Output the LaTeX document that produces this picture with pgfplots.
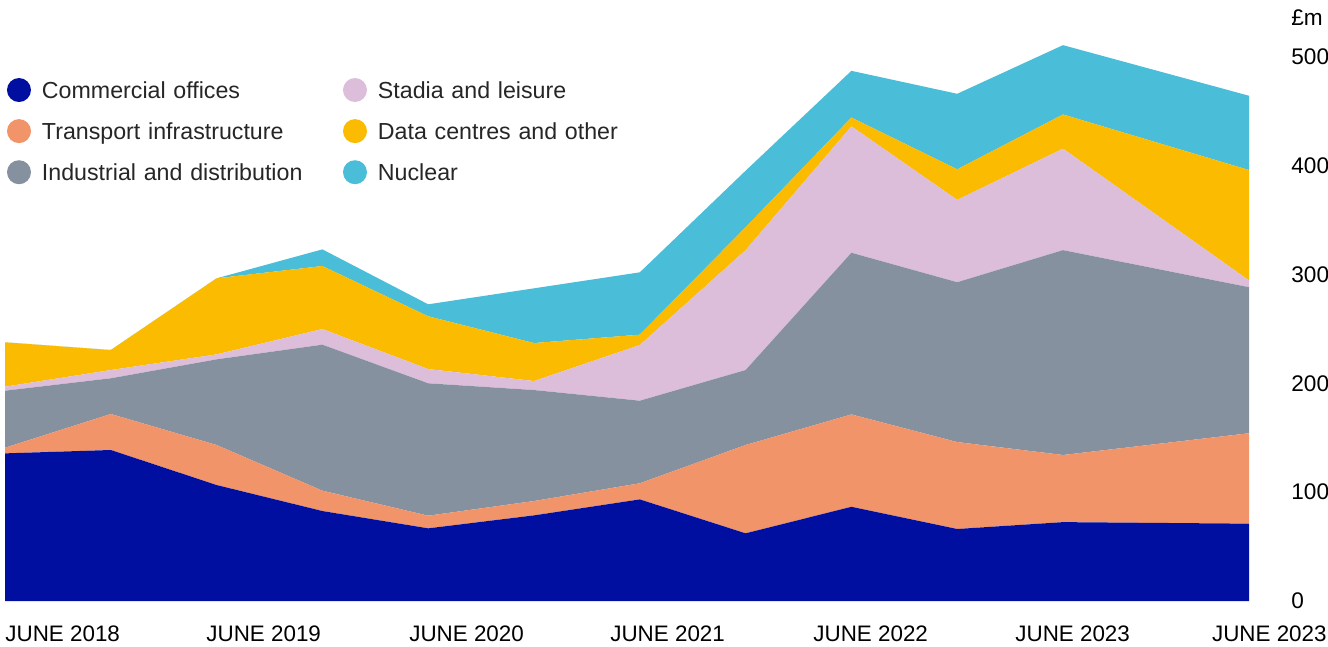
\documentclass[border=0pt]{standalone}
\usepackage{fontspec}
\setmainfont{Liberation Sans}
\usepackage{pgfplots}
\usepackage{pgfplotstable}
\pgfplotsset{compat=1.18}
\definecolor{cOff}{RGB}{0,15,160}
\definecolor{cTra}{RGB}{241,148,106}
\definecolor{cInd}{RGB}{133,145,159}
\definecolor{cSta}{RGB}{220,190,218}
\definecolor{cDat}{RGB}{250,187,0}
\definecolor{cNuc}{RGB}{74,190,216}
\pgfplotstableread{
x      C      T     I      S      D      N
0      135.7  5.2   52.4   3.7    40.8   0
1      138.8  33.1  32.8   7.6    18.4   0
2      106.6  36.8  78.7   4.6    69.9   0
3      82.7   18.7  134.2  14.4   57.9   15.3
4      66.8   11.6  121.7  13.1   48.5   11.0
5      78.7   13.2  102.0  8.3    34.9   50.3
6      93.4   14.8  75.9   51.2   9.5    57.3
7      62.2   81.2  68.9   110.2  21.0   52.0
8      86.6   84.9  148.6  116.2  8.1    42.9
9      66.2   79.9  146.9  75.7   28.1   69.4
10     72.5   61.7  188.3  93.3   31.4   63.7
11.758 71.1   83.1  134.2  6.3    101.4  68.3
}\datatable
\begin{document}
\begin{tikzpicture}
\begin{axis}[
  name=ax,
  scale only axis, width=622pt, height=293.76pt,
  xmin=0, xmax=11.758, ymin=0, ymax=540,
  clip=false,
  axis x line*=bottom, axis y line*=right,
  axis line style={draw=none}, tick style={draw=none},
  stack plots=y,
  ytick={0,100,200,300,400,500},
  /pgf/number format/assume math mode=true,
  yticklabel style={anchor=west, inner sep=0pt, xshift=21pt, font=\fontsize{11.3}{13}\selectfont},
  xtick={0,1.900,3.818,5.718,7.637,9.546},
  xticklabels={JUNE 2018,JUNE 2019,JUNE 2020,JUNE 2021,JUNE 2022,JUNE 2023},
  xticklabel style={anchor=north west, inner sep=0pt, yshift=-12pt, font=\fontsize{11.2}{13}\selectfont},
  extra x ticks={11.758},
  extra x tick labels={JUNE 2023},
  extra x tick style={xticklabel style={anchor=north east, xshift=39pt}},
  legend columns=2,
  legend image code/.code={\fill[#1] (6pt,1.1pt) circle (6pt);},
  legend style={draw=none, fill=none, at={(0.0016,0.8902)}, anchor=north west,
    inner sep=0pt, outer sep=0pt, row sep=7.95pt,
    nodes={inner sep=0pt, text height=8.5pt, text depth=2.5pt, text width=150.5pt, align=left,
      font=\fontsize{11.6}{14}\selectfont, text=black!85},
    /tikz/every odd column/.append style={column sep=5.5pt}},
]
\addplot[fill=cOff, draw=none, forget plot] table[x=x, y=C] {\datatable} \closedcycle;
\addplot[fill=cTra, draw=none, forget plot] table[x=x, y=T] {\datatable} \closedcycle;
\addplot[fill=cInd, draw=none, forget plot] table[x=x, y=I] {\datatable} \closedcycle;
\addplot[fill=cSta, draw=none, forget plot] table[x=x, y=S] {\datatable} \closedcycle;
\addplot[fill=cDat, draw=none, forget plot] table[x=x, y=D] {\datatable} \closedcycle;
\addplot[fill=cNuc, draw=none, forget plot] table[x=x, y=N] {\datatable} \closedcycle;
\addlegendimage{fill=cOff, draw=none}
\addlegendentry{Commercial offices}
\addlegendimage{fill=cSta, draw=none}
\addlegendentry{Stadia and leisure}
\addlegendimage{fill=cTra, draw=none}
\addlegendentry{Transport infrastructure}
\addlegendimage{fill=cDat, draw=none}
\addlegendentry{Data centres and other}
\addlegendimage{fill=cInd, draw=none}
\addlegendentry{Industrial and distribution}
\addlegendimage{fill=cNuc, draw=none}
\addlegendentry{Nuclear}
\node[anchor=west, inner sep=0pt, xshift=21pt, font=\fontsize{11.3}{13}\selectfont] at (axis cs:11.758,536) {£m};
\end{axis}
\pgfresetboundingbox
\path ([xshift=-2.5pt,yshift=-22.5pt]ax.south west) rectangle ([xshift=39.5pt,yshift=6.75pt]ax.north east);
\end{tikzpicture}
\end{document}
